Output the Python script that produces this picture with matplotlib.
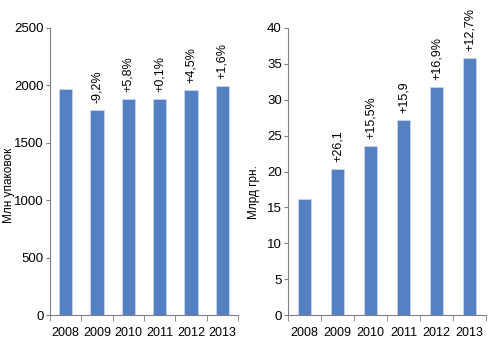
import matplotlib
matplotlib.use("Agg")
import matplotlib.pyplot as plt
from matplotlib.ticker import FixedLocator

years = ["2008", "2009", "2010", "2011", "2012", "2013"]
packs = [1967, 1784, 1880, 1881, 1964, 1995]
packs_labels = ["", "-9,2%", "+5,8%", "+0,1%", "+4,5%", "+1,6%"]
money = [16.1, 20.3, 23.5, 27.2, 31.8, 35.8]
money_labels = ["", "+26,1", "+15,5%", "+15,9", "+16,9%", "+12,7%"]

plt.rcParams["font.family"] = ["Liberation Sans", "DejaVu Sans"]
bar_color = "#5381c1"
spine_color = "#808080"

fig = plt.figure(figsize=(4.9, 3.54), dpi=100)
ax1 = fig.add_axes([50 / 490, 39 / 354, 188 / 490, 287 / 354])
ax2 = fig.add_axes([288 / 490, 39 / 354, 198 / 490, 287 / 354])


def draw(ax, values, labels, ymax, ystep, ylabel, offset):
    x = range(len(values))
    bars = ax.bar(x, values, width=0.42, color=bar_color,
                  edgecolor="#c9d6ea", linewidth=0.6)
    for b, lab in zip(bars, labels):
        if lab:
            ax.annotate(lab, (b.get_x() + b.get_width() / 2, b.get_height()),
                        xytext=(0, offset), textcoords="offset points",
                        rotation=90, ha="center", va="bottom", fontsize=9)
    ax.set_xlim(-0.5, len(values) - 0.5)
    ax.set_ylim(0, ymax)
    ax.set_yticks([i * ystep for i in range(int(ymax / ystep) + 1)])
    ax.set_xticks(list(x))
    ax.set_xticklabels(years)
    ax.xaxis.set_minor_locator(FixedLocator([i - 0.5 for i in range(len(values) + 1)]))
    ax.tick_params(axis="x", which="major", length=0, labelsize=9, pad=9)
    ax.tick_params(axis="x", which="minor", length=4, direction="out", color=spine_color)
    ax.tick_params(axis="y", length=3, pad=1.5, direction="out", color=spine_color, labelsize=9.5)
    for s in ["top", "right"]:
        ax.spines[s].set_visible(False)
    for s in ["left", "bottom"]:
        ax.spines[s].set_color(spine_color)
        ax.spines[s].set_linewidth(0.8)
    ax.set_ylabel(ylabel, fontsize=8.5)


draw(ax1, packs, packs_labels, 2500, 500, "Млн упаковок", 5)
draw(ax2, money, money_labels, 40, 5, "Млрд грн.", 5)
ax1.yaxis.set_label_coords(-0.185, 0.45)
ax2.yaxis.set_label_coords(-0.14, 0.43)

fig.savefig("out.png", dpi=100)
